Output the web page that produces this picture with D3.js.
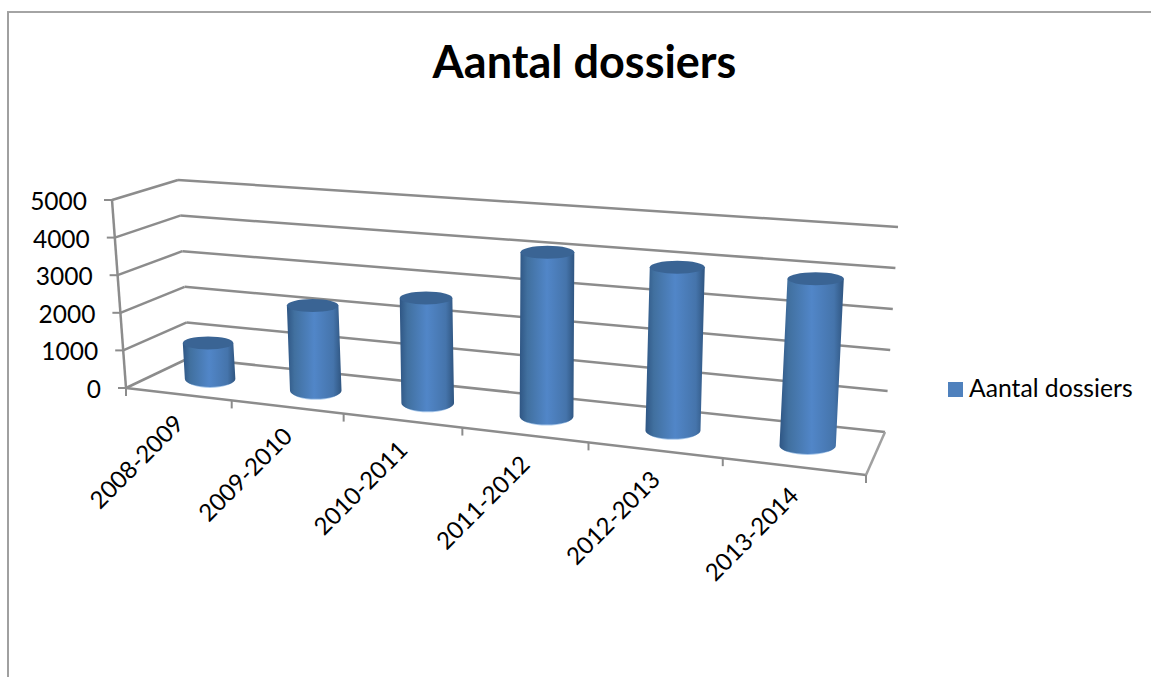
<!DOCTYPE html>
<html><head><meta charset="utf-8">
<script src="https://cdn.jsdelivr.net/npm/d3@7"></script>
<style>html,body{margin:0;padding:0;background:#fff}svg{display:block}text{font-family:Lato,"Open Sans",sans-serif;fill:#000}</style>
</head><body><svg id="c" width="1151" height="677"></svg>
<script>
const chartTitle = "Aantal dossiers";
const seriesName = "Aantal dossiers";
const categories = ["2008-2009","2009-2010","2010-2011","2011-2012","2012-2013","2013-2014"];
const dossiers = [970,2240,2700,4100,3970,3940];
const valueTicks = [0,1000,2000,3000,4000,5000];

const svg = d3.select("#c");
const grid = "#8c8c8c";

// projected box corners: floor and per-5000 rise
const floorFL=[126,388], floorFR=[866,475], floorBL=[189,358], floorBR=[885,432];
const riseFL=[-14,-188], riseFR=[12,-225], riseBL=[-11,-178], riseBR=[13,-205];
const mix=(a,b,t)=>[a[0]+(b[0]-a[0])*t,a[1]+(b[1]-a[1])*t];
const valueFrac=d3.scaleLinear().domain([0,5000]).range([0,1]);
const catPos=d3.scaleLinear().domain([0,categories.length]).range([0,1]);
const persp=1.2;
const uOf=i=>{const t=catPos(i);return t/(t+persp*(1-t));};
function P(u,w,v){
  const f=mix(mix(floorFL,floorFR,u),mix(floorBL,floorBR,u),w);
  const r=mix(mix(riseFL,riseFR,u),mix(riseBL,riseBR,u),w);
  const k=valueFrac(v);
  return [f[0]+r[0]*k,f[1]+r[1]*k];
}
const line=(a,b,sw,col)=>svg.append("line").attr("x1",a[0]).attr("y1",a[1]).attr("x2",b[0]).attr("y2",b[1]).attr("stroke",col||grid).attr("stroke-width",sw||2.5);

// outer frame
line([7,12],[1151,12],1.5,"#868686");
line([8,12],[8,677],2,"#a0a0a0");

// title
svg.append("text").attr("x",584.5).attr("y",78).attr("text-anchor","middle").attr("font-size",45).attr("font-weight",700).text(chartTitle);

// walls
valueTicks.forEach(v=>{
  line(P(0,0,v),P(0,1,v));
  line(P(0,1,v),P(1,1,v));
  const a=P(0,0,v);
  line(a,[a[0]-8,a[1]],2);
  svg.append("text").attr("x",a[0]-25).attr("y",a[1]+10).attr("text-anchor","end").attr("font-size",24.5).text(v);
});
line(P(0,0,0),P(0,0,5000));
line(P(0,0,0),P(1,0,0));
line(P(1,0,0),P(1,1,0),2.5,"#a0a0a0");

// category ticks and labels
d3.range(categories.length+1).forEach(i=>{
  const a=P(uOf(i),0,0);
  line(a,[a[0],a[1]+8],2);
});
categories.forEach((c,i)=>{
  const a=P(uOf(i+.5),0,0);
  svg.append("text").attr("transform",`translate(${a[0]+7},${a[1]+31}) rotate(-45)`).attr("text-anchor","end").attr("font-size",24).text(c);
});

// cylinders
const defs=svg.append("defs");
const g=defs.append("linearGradient").attr("id","cyl").attr("x1",0).attr("x2",1).attr("y1",0).attr("y2",0);
[[0,"#2f5684"],[.14,"#41709f"],[.5,"#5186c8"],[.85,"#4574ab"],[1,"#2f5580"]].forEach(s=>g.append("stop").attr("offset",s[0]).attr("stop-color",s[1]));

const rxOf=u=>25+3.5*u;
const ryTop=6.5, ryBase=8;
dossiers.forEach((v,i)=>{
  const u=uOf(i+.52), b=P(u,.5,0), t=P(u,.5,v), rx=rxOf(u);
  svg.append("ellipse").attr("cx",b[0]).attr("cy",b[1]+1).attr("rx",rx-2).attr("ry",ryBase).attr("fill","#a9c8ea");
  svg.append("path").attr("fill","url(#cyl)")
    .attr("d",`M${t[0]-rx},${t[1]}L${b[0]-rx},${b[1]}A${rx},${ryBase} 0 0 0 ${b[0]+rx},${b[1]}L${t[0]+rx},${t[1]}Z`);
  svg.append("ellipse").attr("cx",t[0]).attr("cy",t[1]).attr("rx",rx).attr("ry",ryTop).attr("fill","#3a6494");
});

// legend
svg.append("rect").attr("x",948).attr("y",382).attr("width",15).attr("height",15).attr("fill","#4f81bd");
svg.append("text").attr("x",969).attr("y",397).attr("font-size",24.7).text(seriesName);
</script></body></html>
